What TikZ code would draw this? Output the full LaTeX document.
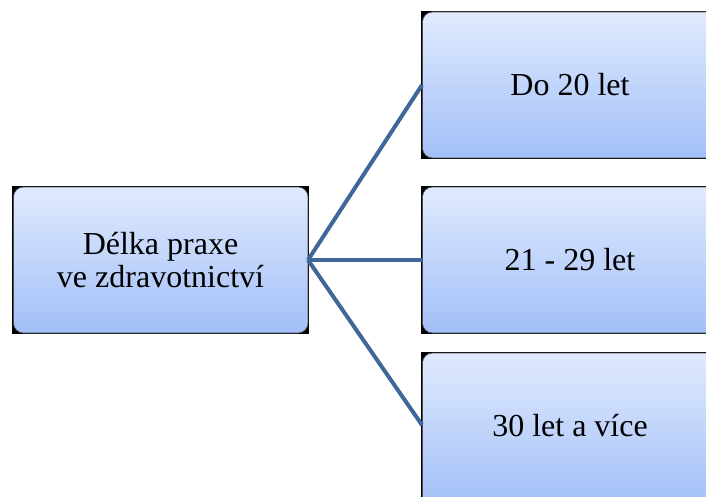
\documentclass[tikz,border=0pt]{standalone}
\usepackage{fontspec}
\setmainfont{Liberation Serif}
\newfontfamily\tnr{Liberation Serif}
\definecolor{boxtop}{HTML}{E0EAFE}
\definecolor{boxbot}{HTML}{A2BFF8}
\definecolor{linkcol}{HTML}{3F6899}
\tikzset{
  x=1pt,y=-1pt,
  backbox/.style={fill=black,draw=none},
  stage/.style={rounded corners=10pt,top color=boxtop,bottom color=boxbot,draw=black!70,line width=0.6pt},
  lbl/.style={font=\tnr\fontsize{32}{33}\selectfont,align=center,text=black},
  link/.style={draw=linkcol,line width=4pt}
}
\begin{document}
\begin{tikzpicture}
\useasboundingbox (0,0) rectangle (706,497);
\begin{scope}
\clip (0,0) rectangle (706,497);
% left
\fill[backbox] (12,186) rectangle (309,334);
\path[stage] (13.5,187) rectangle (308,333);
% top
\fill[backbox] (421,11) rectangle (720,159);
\path[stage] (422.5,12) rectangle (718,158);
% middle
\fill[backbox] (421,186) rectangle (720,334);
\path[stage] (422.5,187) rectangle (718,333);
% bottom
\fill[backbox] (421,352) rectangle (720,510);
\path[stage] (422.5,353) rectangle (718,508);
\end{scope}
\node[lbl] (root) at (160.5,260) {Délka praxe\\ve zdravotnictví};
\node[lbl] (a) at (570,85) {Do 20 let};
\node[lbl] (b) at (570,260) {21 - 29 let};
\node[lbl] (c) at (570,426) {30 let a více};
\coordinate (rootE) at (308,260);
\coordinate (aW) at (422,85);
\coordinate (bW) at (422,260);
\coordinate (cW) at (422,425);
\draw[link] (rootE) -- (aW);
\draw[link] (rootE) -- (bW);
\draw[link] (rootE) -- (cW);
\end{tikzpicture}
\end{document}
